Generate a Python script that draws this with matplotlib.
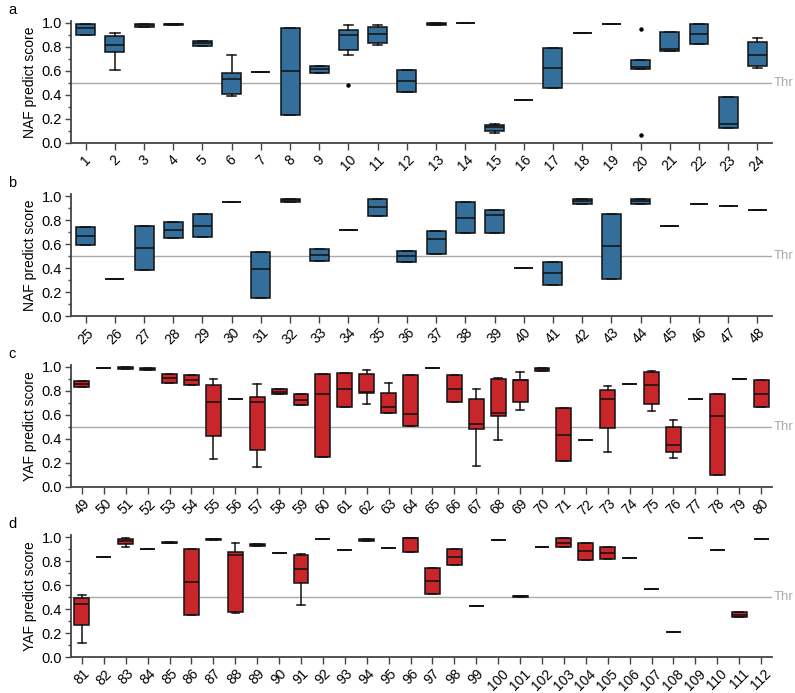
import numpy as np
import matplotlib
matplotlib.use('Agg')
import matplotlib.pyplot as plt
from matplotlib.ticker import MultipleLocator
import matplotlib.transforms as mtransforms

plt.rcParams['font.family'] = ['Liberation Sans', 'DejaVu Sans']

# ---- panel a : NAF, samples 1-24
a_ids = list(range(1, 25))
a_q1 = [0.90, 0.755, 0.965, 0.985, 0.81, 0.41, 0.595, 0.233, 0.586, 0.775, 0.833, 0.428,
        0.983, 0.997, 0.103, 0.36, 0.46, 0.92, 0.99, 0.62, 0.77, 0.828, 0.125, 0.64]
a_med = [0.96, 0.82, 0.98, 0.99, 0.83, 0.533, 0.595, 0.60, 0.614, 0.90, 0.908, 0.52,
         0.99, 0.997, 0.13, 0.36, 0.628, 0.92, 0.99, 0.63, 0.786, 0.91, 0.158, 0.736]
a_q3 = [0.99, 0.89, 0.995, 0.995, 0.85, 0.586, 0.595, 0.958, 0.64, 0.94, 0.97, 0.608,
        0.997, 0.997, 0.15, 0.36, 0.79, 0.92, 0.99, 0.69, 0.925, 0.99, 0.386, 0.84]
a_lo = {2: 0.605, 6: 0.39, 10: 0.73, 11: 0.82, 15: 0.08, 24: 0.622}
a_hi = {2: 0.92, 6: 0.73, 10: 0.986, 11: 0.983, 15: 0.158, 24: 0.872}
a_out = {10: [0.483], 20: [0.953, 0.064]}

# ---- panel b : NAF, samples 25-48
b_ids = list(range(25, 49))
b_q1 = [0.59, 0.31, 0.38, 0.65, 0.656, 0.953, 0.153, 0.947, 0.461, 0.717, 0.83, 0.453,
        0.514, 0.69, 0.69, 0.40, 0.258, 0.936, 0.31, 0.936, 0.75, 0.933, 0.919, 0.886]
b_med = [0.67, 0.31, 0.564, 0.72, 0.753, 0.953, 0.394, 0.964, 0.51, 0.717, 0.908, 0.497,
         0.64, 0.82, 0.84, 0.40, 0.356, 0.96, 0.58, 0.956, 0.75, 0.933, 0.919, 0.886]
b_q3 = [0.744, 0.31, 0.75, 0.786, 0.853, 0.953, 0.536, 0.978, 0.558, 0.717, 0.978, 0.54,
        0.711, 0.953, 0.88, 0.40, 0.453, 0.978, 0.853, 0.978, 0.75, 0.933, 0.919, 0.886]
b_lo = {}
b_hi = {}
b_out = {}

# ---- panel c : YAF, samples 49-80
c_ids = list(range(49, 81))
c_q1 = [0.836, 0.994, 0.983, 0.975, 0.867, 0.853, 0.425, 0.73, 0.308, 0.772, 0.68, 0.253,
        0.67, 0.783, 0.62, 0.511, 0.994, 0.706, 0.48, 0.594, 0.706, 0.97, 0.214, 0.389,
        0.492, 0.856, 0.694, 0.289, 0.73, 0.103, 0.9, 0.667]
c_med = [0.858, 0.994, 0.99, 0.986, 0.905, 0.894, 0.705, 0.73, 0.706, 0.794, 0.725, 0.775,
         0.817, 0.79, 0.67, 0.608, 0.994, 0.82, 0.528, 0.617, 0.894, 0.983, 0.436, 0.389,
         0.736, 0.856, 0.853, 0.35, 0.73, 0.589, 0.9, 0.778]
c_q3 = [0.88, 0.994, 1.0, 0.994, 0.94, 0.936, 0.847, 0.73, 0.747, 0.814, 0.775, 0.939,
        0.947, 0.944, 0.783, 0.93, 0.994, 0.93, 0.733, 0.897, 0.894, 0.992, 0.656, 0.389,
        0.806, 0.856, 0.956, 0.503, 0.73, 0.775, 0.9, 0.892]
c_lo = {55: 0.23, 57: 0.167, 62: 0.69, 67: 0.175, 68: 0.389, 69: 0.642, 73: 0.292,
        75: 0.633, 76: 0.242}
c_hi = {55: 0.897, 57: 0.861, 62: 0.972, 63: 0.864, 67: 0.814, 68: 0.908, 69: 0.956,
        73: 0.839, 75: 0.967, 76: 0.556}
c_out = {}

# ---- panel d : YAF, samples 81-112
d_ids = list(range(81, 113))
d_q1 = [0.267, 0.836, 0.942, 0.897, 0.95, 0.347, 0.975, 0.375, 0.925, 0.864, 0.617, 0.983,
        0.889, 0.967, 0.911, 0.875, 0.525, 0.769, 0.422, 0.975, 0.503, 0.914, 0.914, 0.811,
        0.817, 0.822, 0.567, 0.206, 0.994, 0.889, 0.331, 0.986]
d_med = [0.442, 0.836, 0.969, 0.897, 0.953, 0.622, 0.98, 0.847, 0.933, 0.864, 0.736, 0.983,
         0.889, 0.975, 0.911, 0.99, 0.631, 0.836, 0.422, 0.975, 0.506, 0.914, 0.953, 0.881,
         0.869, 0.822, 0.567, 0.206, 0.994, 0.889, 0.353, 0.986]
d_q3 = [0.492, 0.836, 0.986, 0.897, 0.956, 0.903, 0.985, 0.878, 0.94, 0.864, 0.85, 0.983,
        0.889, 0.98, 0.911, 0.992, 0.739, 0.897, 0.422, 0.975, 0.509, 0.914, 0.989, 0.947,
        0.919, 0.822, 0.567, 0.206, 0.994, 0.889, 0.372, 0.986]
d_lo = {81: 0.12, 83: 0.914, 88: 0.37, 91: 0.43}
d_hi = {81: 0.52, 83: 0.99, 88: 0.953, 91: 0.856}
d_out = {}

blue = '#336f9a'
red = '#c8262a'
axis_c = '#444444'
thr_c = '#aaaaaa'


def make_stats(ids, q1, med, q3, lo, hi, out):
    stats = []
    for i, k in enumerate(ids):
        stats.append({
            'q1': q1[i], 'med': med[i], 'q3': q3[i],
            'whislo': lo.get(k, q1[i]), 'whishi': hi.get(k, q3[i]),
            'fliers': out.get(k, []),
        })
    return stats


fig = plt.figure(figsize=(7.95, 6.93), dpi=100)

panels = [
    ('a', 'NAF predict score', a_ids, a_q1, a_med, a_q3, a_lo, a_hi, a_out, blue, 0.65, 0.7937),
    ('b', 'NAF predict score', b_ids, b_q1, b_med, b_q3, b_lo, b_hi, b_out, blue, 0.65, 0.5440),
    ('c', 'YAF predict score', c_ids, c_q1, c_med, c_q3, c_lo, c_hi, c_out, red, 0.68, 0.2973),
    ('d', 'YAF predict score', d_ids, d_q1, d_med, d_q3, d_lo, d_hi, d_out, red, 0.68, 0.0519),
]

for letter, ylab, ids, q1, med, q3, lo, hi, out, col, w, bot in panels:
    ax = fig.add_axes([0.0893, bot, 0.8818, 0.1766])
    stats = make_stats(ids, q1, med, q3, lo, hi, out)
    ax.axhline(0.5, color=thr_c, lw=1, zorder=0)
    ax.bxp(stats, positions=ids, widths=w, patch_artist=True,
           boxprops=dict(facecolor=col, edgecolor='#111111', linewidth=1.1),
           medianprops=dict(color='#111111', linewidth=1.1),
           whiskerprops=dict(color='#111111', linewidth=1.1),
           capprops=dict(color='#111111', linewidth=1.1),
           flierprops=dict(marker='o', markersize=2.2, markerfacecolor='black',
                           markeredgecolor='black'))
    ax.set_xlim(ids[0] - 0.5, ids[-1] + 0.5)
    ax.set_ylim(0, 1.02)
    ax.set_xticks(ids)
    ax.set_xticklabels([str(k) for k in ids], rotation=45, ha='center', fontsize=10)
    ax.yaxis.set_minor_locator(MultipleLocator(0.1))
    ax.set_yticks(np.arange(0, 1.01, 0.2))
    ax.set_yticklabels(['%.1f' % v for v in np.arange(0, 1.01, 0.2)], fontsize=10.5)
    ax.tick_params(axis='y', which='major', length=4, color=axis_c, width=1, pad=2.5)
    ax.tick_params(axis='y', which='minor', length=2.5, color=axis_c, width=1)
    ax.tick_params(axis='x', length=5, color=axis_c, width=1, pad=2)
    for s in ['top', 'right']:
        ax.spines[s].set_visible(False)
    for s in ['left', 'bottom']:
        ax.spines[s].set_color(axis_c)
        ax.spines[s].set_linewidth(1.3)
    ax.set_ylabel(ylab, fontsize=10, labelpad=3)
    trans = mtransforms.blended_transform_factory(ax.transAxes, ax.transData)
    ax.text(1.002, 0.5, 'Thr', transform=trans, color=thr_c, fontsize=9.5,
            va='center', ha='left')
    ax.text(-0.09, 1.09, letter, transform=ax.transAxes, fontsize=10.5,
            va='center', ha='left')

fig.savefig('out.png', dpi=100)
